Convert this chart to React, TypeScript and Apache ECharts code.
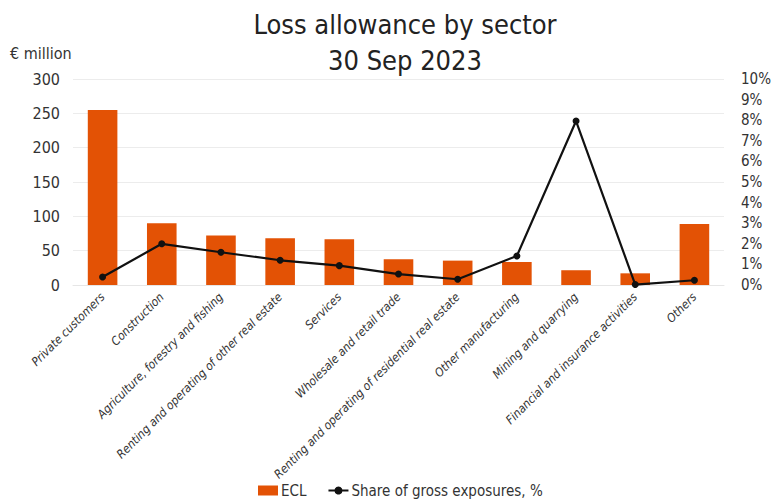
import React, { useEffect, useRef } from "react";
import * as echarts from "echarts";

const categories = [
  "Private customers",
  "Construction",
  "Agriculture, forestry and fishing",
  "Renting and operating of other real estate",
  "Services",
  "Wholesale and retail trade",
  "Renting and operating of residential real estate",
  "Other manufacturing",
  "Mining and quarrying",
  "Financial and insurance activities",
  "Others",
];
const eclValues = [255, 90, 72, 68, 66.5, 37.5, 35.5, 33.5, 21.5, 17, 89];
const shareValues = [0.39, 2.0, 1.59, 1.2, 0.94, 0.53, 0.28, 1.41, 7.96, 0.02, 0.23];
const leftTicks = [0, 50, 100, 150, 200, 250, 300];
const rightTicks = [0, 1, 2, 3, 4, 5, 6, 7, 8, 9, 10];

const FONT = "'DejaVu Sans Condensed', Roboto, sans-serif";
const TEXT = "#333333";

export default function App() {
  const ref = useRef<HTMLDivElement>(null);
  useEffect(() => {
    if (!ref.current) return;
    const chart = echarts.init(ref.current, undefined, { renderer: "svg" });
    chart.setOption({
      animation: false,
      textStyle: { fontFamily: FONT, color: TEXT },
      title: {
        text: "Loss allowance by sector\n30 Sep 2023",
        left: 400,
        top: 1,
        textAlign: "center",
        textStyle: {
          fontFamily: FONT,
          fontWeight: "normal",
          fontSize: 27,
          lineHeight: 36,
          color: "#222",
        },
      },
      graphic: [
        {
          type: "text",
          left: 10,
          top: 45,
          style: { text: "€ million", fontFamily: FONT, fontSize: 16, fill: TEXT },
        },
      ],
      legend: {
        top: 478,
        left: 253,
        itemGap: 21,
        textStyle: { fontFamily: FONT, fontSize: 15, color: TEXT, padding: [0, 0, 0, -2] },
        data: [
          { name: "ECL", icon: "rect", itemStyle: { color: "#E35205" } },
          { name: "Share of gross exposures, %" },
        ],
        itemWidth: 20,
        itemHeight: 10,
      },
      grid: { left: 73, right: 46, top: 79, bottom: 216 },
      xAxis: {
        type: "category",
        data: categories,
        axisLine: { lineStyle: { color: "#e6e6e6" } },
        axisTick: { show: false },
        axisLabel: {
          rotate: 45,
          interval: 0,
          fontStyle: "italic",
          fontFamily: FONT,
          fontSize: 12,
          color: TEXT,
          margin: 10,
        },
      },
      yAxis: [
        {
          type: "value",
          min: leftTicks[0],
          max: leftTicks[leftTicks.length - 1],
          interval: 50,
          axisLine: { show: false },
          axisTick: { show: false },
          splitLine: { lineStyle: { color: "#ececec" } },
          axisLabel: { fontFamily: FONT, fontSize: 16, color: TEXT, margin: 13 },
        },
        {
          type: "value",
          min: rightTicks[0],
          max: rightTicks[rightTicks.length - 1],
          interval: 1,
          axisLine: { show: false },
          axisTick: { show: false },
          splitLine: { show: false },
          axisLabel: {
            fontFamily: FONT,
            fontSize: 15,
            color: TEXT,
            margin: 17,
            formatter: (v: number) => v + "%",
          },
        },
      ],
      series: [
        {
          name: "ECL",
          type: "bar",
          data: eclValues,
          barWidth: "50%",
          itemStyle: { color: "#E35205" },
        },
        {
          name: "Share of gross exposures, %",
          type: "line",
          yAxisIndex: 1,
          data: shareValues,
          symbol: "circle",
          symbolSize: 7,
          lineStyle: { color: "#111", width: 2.2 },
          itemStyle: { color: "#111" },
        },
      ],
    });
    return () => chart.dispose();
  }, []);
  return (
    <div
      ref={ref}
      style={{ position: "absolute", left: 0, top: 0, width: 774, height: 501 }}
    />
  );
}
